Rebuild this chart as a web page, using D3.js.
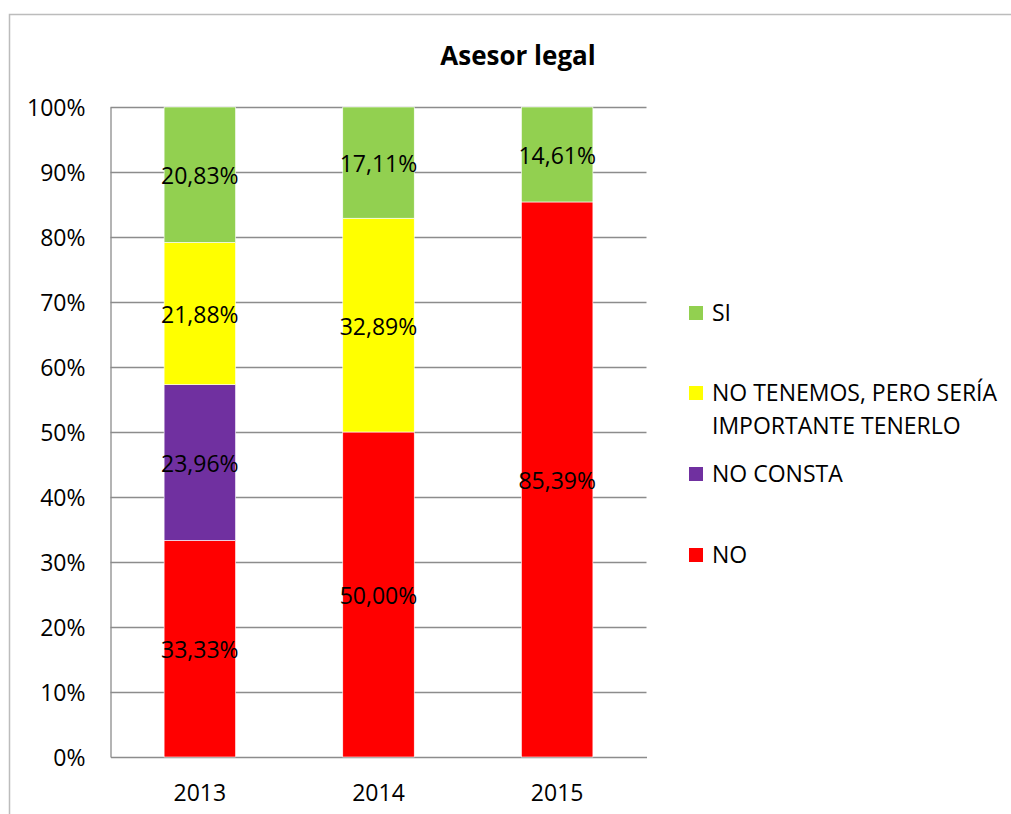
<!DOCTYPE html>
<html><head><meta charset="utf-8">
<script src="https://cdn.jsdelivr.net/npm/d3@7"></script>
<style>body{margin:0;background:#fff;} svg{display:block;} text{font-family:"Open Sans",sans-serif;}</style>
</head><body>
<svg id="c" width="1011" height="814"></svg>
<script>
const years = ["2013", "2014", "2015"];
const seriesNames = ["NO", "NO CONSTA", "NO TENEMOS, PERO SERÍA IMPORTANTE TENERLO", "SI"];
const valuesNO = [33.33, 50.00, 85.39];
const valuesNoConsta = [23.96, 0, 0];
const valuesNoTenemos = [21.88, 32.89, 0];
const valuesSI = [20.83, 17.11, 14.61];
const colors = ["#FF0000", "#7030A0", "#FFFF00", "#92D050"];
const yTicks = [0, 10, 20, 30, 40, 50, 60, 70, 80, 90, 100];
const legendOrder = [3, 2, 1, 0];
const legendLines = [["SI"], ["NO TENEMOS, PERO SERÍA", "IMPORTANTE TENERLO"], ["NO CONSTA"], ["NO"]];

const svg = d3.select("#c");
const m = {l: 110.5, r: 646.5, t: 107, b: 757};

// outer frame
svg.append("rect").attr("x", 9.5).attr("y", 14.5).attr("width", 1010).attr("height", 820)
  .attr("fill", "none").attr("stroke", "#bcbcbc").attr("stroke-width", 1.5);

const x = d3.scaleBand().domain(years).range([m.l, m.r]).paddingInner(0.6).paddingOuter(0.3);
const y = d3.scaleLinear().domain([0, 100]).range([m.b, m.t]);

// gridlines
svg.append("g").selectAll("line").data(yTicks.filter(d => d > 0)).join("line")
  .attr("x1", m.l).attr("x2", m.r).attr("y1", d => Math.round(y(d)) + 0.5).attr("y2", d => Math.round(y(d)) + 0.5)
  .attr("stroke", "#8c8c8c").attr("stroke-width", 1.3);

// y axis
const yAxis = svg.append("g").attr("transform", `translate(${m.l},0)`)
  .call(d3.axisLeft(y).tickValues(yTicks).tickFormat(d => d + "%").tickSize(0).tickPadding(25));
yAxis.select(".domain").attr("stroke", "#8c8c8c").attr("stroke-width", 1.3);
yAxis.selectAll("text").attr("font-size", 23).attr("fill", "#000").attr("dy", "0.36em");

// x axis
const xAxis = svg.append("g").attr("transform", `translate(0,${m.b})`)
  .call(d3.axisBottom(x).tickSize(0).tickPadding(28));
xAxis.select(".domain").attr("stroke", "#8c8c8c").attr("stroke-width", 1.3);
xAxis.selectAll("text").attr("font-size", 23).attr("fill", "#000");

// stacked data
const rows = years.map((yr, i) => ({year: yr, s0: valuesNO[i], s1: valuesNoConsta[i], s2: valuesNoTenemos[i], s3: valuesSI[i]}));
const stack = d3.stack().keys(["s0", "s1", "s2", "s3"])(rows);

const gBars = svg.append("g");
stack.forEach((layer, li) => {
  gBars.selectAll(null).data(layer.filter(d => d[1] - d[0] > 0)).join("rect")
    .attr("x", d => x(d.data.year))
    .attr("width", x.bandwidth())
    .attr("y", d => y(d[1]))
    .attr("height", d => y(d[0]) - y(d[1]))
    .attr("fill", colors[li])
    .attr("stroke", "#fff").attr("stroke-width", 0.6);
});
stack.forEach((layer, li) => {
  svg.append("g").selectAll("text").data(layer.filter(d => d[1] - d[0] > 0)).join("text")
    .attr("x", d => x(d.data.year) + x.bandwidth() / 2)
    .attr("y", d => (y(d[0]) + y(d[1])) / 2)
    .attr("dy", "0.42em")
    .attr("text-anchor", "middle").attr("font-size", 23).attr("fill", "#000")
    .text(d => (d[1] - d[0]).toFixed(2).replace(".", ",") + "%");
});

// title
svg.append("text").attr("x", 518).attr("y", 65).attr("text-anchor", "middle")
  .attr("font-size", 26).attr("font-weight", "bold").attr("fill", "#000").text("Asesor legal");

// legend
const legY = [313, 393, 474, 555];
legendOrder.forEach((si, i) => {
  const g = svg.append("g");
  g.append("rect").attr("x", 689).attr("y", legY[i] - 7).attr("width", 14).attr("height", 14).attr("fill", colors[si]);
  legendLines[i].forEach((ln, k) => {
    g.append("text").attr("x", 712).attr("y", legY[i] + k * 33).attr("dy", "0.36em")
      .attr("font-size", 23).attr("fill", "#000").text(ln);
  });
});
</script>
</body></html>
